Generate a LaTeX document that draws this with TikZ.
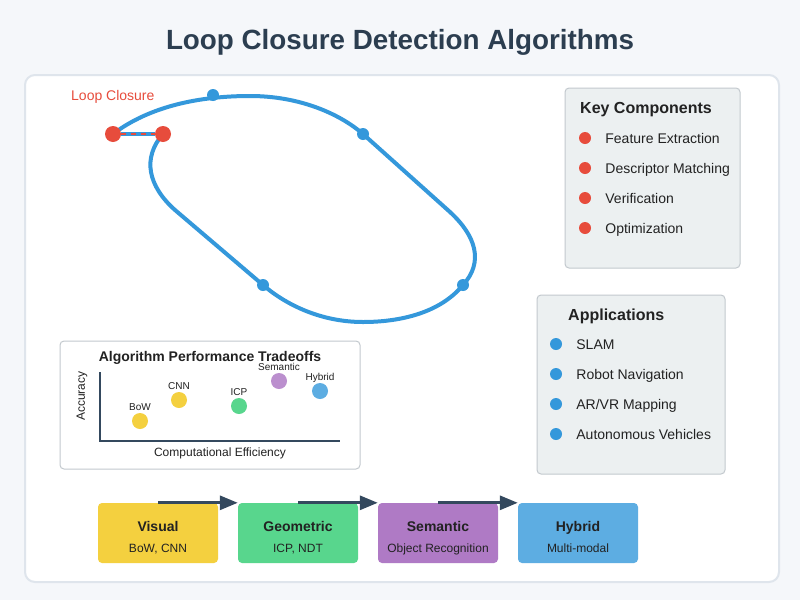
\documentclass[tikz,border=0pt]{standalone}
\usepackage{fontspec}
\setmainfont{Liberation Sans}
\usetikzlibrary{arrows.meta,positioning}
\newcommand{\pxfont}[1]{\fontsize{#1}{#1}\selectfont}
\definecolor{pagebg}{HTML}{F5F7FA}
\definecolor{panelline}{HTML}{DFE5EC}
\definecolor{titleink}{HTML}{2C3E50}
\definecolor{textink}{HTML}{222222}
\definecolor{trackblue}{HTML}{3498DB}
\definecolor{closered}{HTML}{E74C3C}
\definecolor{boxfill}{HTML}{ECF0F1}
\definecolor{boxline}{HTML}{C3C9CE}
\definecolor{flowink}{HTML}{34495E}
\definecolor{visualfill}{HTML}{F4D03F}
\definecolor{geomfill}{HTML}{58D68D}
\definecolor{semfill}{HTML}{AF7AC5}
\definecolor{hybfill}{HTML}{5DADE2}
\definecolor{semdot}{HTML}{BB8FCE}

\begin{document}
\begin{tikzpicture}[
  x=1pt,
  y=-1pt,
  every node/.style={inner sep=0pt, textink},
  panel/.style={fill=white, draw=panelline, line width=2pt, rounded corners=10pt},
  listbox/.style={fill=boxfill, draw=boxline, line width=1pt, rounded corners=4pt},
  chartbox/.style={fill=white, draw=boxline, line width=1pt, rounded corners=4pt},
  track/.style={trackblue, line width=4pt},
  pose/.style={circle, fill=trackblue, minimum size=12pt},
  closure/.style={circle, fill=closered, minimum size=16pt},
  bullet/.style={circle, minimum size=12pt},
  item/.style={font=\pxfont{14}, text height=10pt, text depth=0pt},
  heading/.style={anchor=base west, font=\bfseries\pxfont{16}},
  axisline/.style={flowink, line width=1.5pt},
  algo/.style={circle, minimum size=16pt},
  algolabel/.style={font=\pxfont{10}, text height=7pt, text depth=0pt},
  stagebox/.style={rounded corners=4pt, minimum width=120pt, minimum height=60pt},
  flow/.style={flowink, line width=3pt, -{Triangle[length=18pt,width=14pt]}}
]
  % ---- page and panel ---------------------------------------------------
  \useasboundingbox (0,0) rectangle (800,600);
  \fill[pagebg] (0,0) rectangle (800,600);
  \draw[panel] (25,75) rectangle (779,582);
  \node[anchor=base, font=\bfseries\pxfont{27.8}, text=titleink] (title)
    at (400,49) {Loop Closure Detection Algorithms};

  % ---- trajectory with the loop closure --------------------------------
  \draw[track] (113,134) .. controls (150,106) and (200,96) .. (250,96)
    .. controls (300,96) and (340,114) .. (363,134)
    -- (450,212) .. controls (476,236) and (484,262) .. (463,285)
    .. controls (440,313) and (400,322) .. (363,322)
    .. controls (320,322) and (285,304) .. (263,285)
    -- (175,210) .. controls (148,186) and (142,158) .. (163,134);
  \node[closure] (start) at (113,134) {};
  \node[closure] (revisit) at (163,134) {};
  \draw[track] (start) -- (revisit);
  \draw[closered, line width=2pt, dash pattern=on 5pt off 5pt] (start) -- (revisit);
  \node[pose] (pose1) at (213,95) {};
  \node[pose] (pose2) at (363,134) {};
  \node[pose] (pose3) at (463,285) {};
  \node[pose] (pose4) at (263,285) {};
  \node[anchor=base west, font=\pxfont{14}, text=closered] (lclabel)
    at (71,100) {Loop Closure};

  % ---- key components --------------------------------------------------
  \draw[listbox] (565,88) rectangle (740,268);
  \node[heading] (keyhead) at (580,113) {Key Components};
  \foreach \txt [count=\i] in {Feature Extraction, Descriptor Matching,
      Verification, Optimization} {
    \node[bullet, fill=closered] (keydot\i) at (585,108+30*\i) {};
    \node[item, right=14pt of keydot\i] (key\i) {\txt};
  }

  % ---- applications ----------------------------------------------------
  \draw[listbox] (537,295) rectangle (725,474);
  \node[heading] (apphead) at (568,320) {Applications};
  \foreach \txt [count=\i] in {SLAM, Robot Navigation, AR/VR Mapping,
      Autonomous Vehicles} {
    \node[bullet, fill=trackblue] (appdot\i) at (556,314+30*\i) {};
    \node[item, right=14pt of appdot\i] (app\i) {\txt};
  }

  % ---- performance tradeoffs -------------------------------------------
  \draw[chartbox] (60,341) rectangle (360,469);
  \node[anchor=base, font=\bfseries\pxfont{14}] (charthead) at (210,361)
    {Algorithm Performance Tradeoffs};
  \draw[axisline] (100,372) -- (100,441) -- (340,441);
  \node[anchor=base, font=\pxfont{12}] (xlabel) at (220,456)
    {Computational Efficiency};
  \node[font=\pxfont{12}, rotate=90] (ylabel) at (82,396) {Accuracy};
  \node[algo, fill=visualfill] (bow) at (140,421) {};
  \node[algo, fill=visualfill] (cnn) at (179,400) {};
  \node[algo, fill=geomfill] (icp) at (239,406) {};
  \node[algo, fill=semdot] (semantic) at (279,381) {};
  \node[algo, fill=hybfill] (hybrid) at (320,391) {};
  \node[algolabel, above=2pt of bow] (bowlabel) {BoW};
  \node[algolabel, above=2pt of cnn] (cnnlabel) {CNN};
  \node[algolabel, above=2pt of icp] (icplabel) {ICP};
  \node[algolabel, above=2pt of semantic] (semlabel) {Semantic};
  \node[algolabel, above=2pt of hybrid] (hyblabel) {Hybrid};

  % ---- evolution of the methods ----------------------------------------
  \foreach \x/\name/\head/\sub/\col in {158/visual/Visual/{BoW, CNN}/visualfill,
      298/geometric/Geometric/{ICP, NDT}/geomfill,
      438/semstage/Semantic/Object Recognition/semfill,
      578/hybstage/Hybrid/Multi-modal/hybfill} {
    \node[stagebox, fill=\col] (\name) at (\x,533) {};
    \node[anchor=base, font=\bfseries\pxfont{14}] (\name-head) at (\x,531) {\head};
    \node[anchor=base, font=\pxfont{12}] (\name-sub) at (\x,552) {\sub};
  }
  \draw[flow] (visual.north) -- (geometric.north west);
  \draw[flow] (geometric.north) -- (semstage.north west);
  \draw[flow] (semstage.north) -- (hybstage.north west);
\end{tikzpicture}
\end{document}
